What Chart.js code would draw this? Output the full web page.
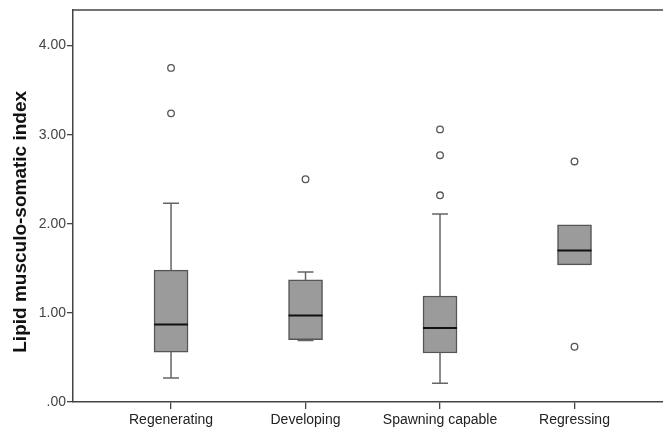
<!DOCTYPE html>
<html>
<head>
<meta charset="utf-8">
<script src="https://cdn.jsdelivr.net/npm/chart.js@4/dist/chart.umd.min.js"></script>
<style>
  html, body { margin: 0; padding: 0; background: #fff; overflow: hidden; }
  canvas { display: block; }
</style>
</head>
<body>
<canvas id="chart" width="663" height="432"></canvas>
<script>
const categories = ['Regenerating', 'Developing', 'Spawning capable', 'Regressing'];
const whiskerLow = [0.27, 0.69, 0.21, 1.54];
const q1 = [0.56, 0.70, 0.55, 1.54];
const medians = [0.87, 0.97, 0.83, 1.70];
const q3 = [1.48, 1.37, 1.19, 1.99];
const whiskerHigh = [2.23, 1.46, 2.11, 1.99];
const outliers = [[3.75, 3.24], [2.50], [3.06, 2.77, 2.32], [2.70, 0.62]];
const yTicks = [0, 1, 2, 3, 4];

const boxData = categories.map((c, i) => ({ x: i + 1, y: [q1[i], q3[i]] }));
const outlierData = [];
outliers.forEach((list, i) => list.forEach(v => outlierData.push({ x: i + 1, y: v })));

const whiskerPlugin = {
  id: 'whiskers',
  beforeDatasetsDraw(chart) {
    const { ctx, scales: { x, y } } = chart;
    ctx.save();
    ctx.strokeStyle = '#666';
    ctx.lineWidth = 1.5;
    categories.forEach((c, i) => {
      const px = x.getPixelForValue(i + 1);
      const cap = 8;
      ctx.beginPath();
      ctx.moveTo(px, y.getPixelForValue(whiskerLow[i]));
      ctx.lineTo(px, y.getPixelForValue(q1[i]));
      ctx.moveTo(px, y.getPixelForValue(q3[i]));
      ctx.lineTo(px, y.getPixelForValue(whiskerHigh[i]));
      if (whiskerHigh[i] > q3[i]) {
        ctx.moveTo(px - cap, y.getPixelForValue(whiskerHigh[i]));
        ctx.lineTo(px + cap, y.getPixelForValue(whiskerHigh[i]));
      }
      if (whiskerLow[i] < q1[i]) {
        ctx.moveTo(px - cap, y.getPixelForValue(whiskerLow[i]));
        ctx.lineTo(px + cap, y.getPixelForValue(whiskerLow[i]));
      }
      ctx.stroke();
    });
    ctx.restore();
  },
  afterDatasetsDraw(chart) {
    const { ctx, chartArea, scales: { x, y } } = chart;
    ctx.save();
    ctx.strokeStyle = '#111';
    ctx.lineWidth = 2;
    const half = 17;
    categories.forEach((c, i) => {
      const px = x.getPixelForValue(i + 1);
      const py = y.getPixelForValue(medians[i]);
      ctx.beginPath();
      ctx.moveTo(px - half, py);
      ctx.lineTo(px + half, py);
      ctx.stroke();
    });
    // top frame line
    ctx.strokeStyle = '#444';
    ctx.lineWidth = 1.5;
    ctx.beginPath();
    ctx.moveTo(chartArea.left, chartArea.top);
    ctx.lineTo(chartArea.right, chartArea.top);
    ctx.stroke();
    ctx.restore();
  }
};

new Chart(document.getElementById('chart'), {
  type: 'bar',
  data: {
    datasets: [
      {
        type: 'bar',
        data: boxData,
        backgroundColor: '#9b9b9b',
        borderColor: '#555',
        borderWidth: 1.5,
        borderSkipped: false,
        barThickness: 34
      },
      {
        type: 'scatter',
        data: outlierData,
        pointStyle: 'circle',
        pointRadius: 3.3,
        pointBackgroundColor: '#fff',
        pointBorderColor: '#555',
        pointBorderWidth: 1.3
      }
    ]
  },
  options: {
    responsive: false,
    animation: false,
    layout: { autoPadding: false, padding: { top: 10, right: 0, left: 0, bottom: 0 } },
    plugins: { legend: { display: false }, tooltip: { enabled: false } },
    scales: {
      x: {
        type: 'linear',
        offset: false,
        min: 0.271,
        max: 4.658,
        afterBuildTicks: axis => { axis.ticks = [1, 2, 3, 4].map(v => ({ value: v })); },
        afterFit: axis => { axis.height = 30; },
        grid: { offset: false, drawOnChartArea: false, tickLength: 7, color: '#444', lineWidth: 1.3 },
        border: { display: true, color: '#444', width: 1.5 },
        ticks: {
          callback: v => categories[v - 1],
          color: '#222',
          padding: 3,
          maxRotation: 0,
          autoSkip: false,
          font: { family: 'Liberation Sans, Arial, sans-serif', size: 14 }
        }
      },
      y: {
        min: 0,
        max: 4.4,
        afterBuildTicks: axis => { axis.ticks = yTicks.map(v => ({ value: v })); },
        afterFit: axis => { axis.width = 73; },
        grid: { drawOnChartArea: false, tickLength: 6, color: '#444', lineWidth: 1.3 },
        border: { display: true, color: '#444', width: 1.5 },
        ticks: {
          callback: v => v === 0 ? '.00' : v.toFixed(2),
          color: '#444',
          padding: 1,
          font: { family: 'Liberation Sans, Arial, sans-serif', size: 14 }
        },
        title: {
          display: true,
          text: 'Lipid musculo-somatic index      ',
          color: '#111',
          padding: { top: 9, bottom: 0 },
          font: { family: 'Liberation Sans, Arial, sans-serif', size: 19, weight: 'bold' }
        }
      }
    }
  },
  plugins: [whiskerPlugin]
});
</script>
</body>
</html>
